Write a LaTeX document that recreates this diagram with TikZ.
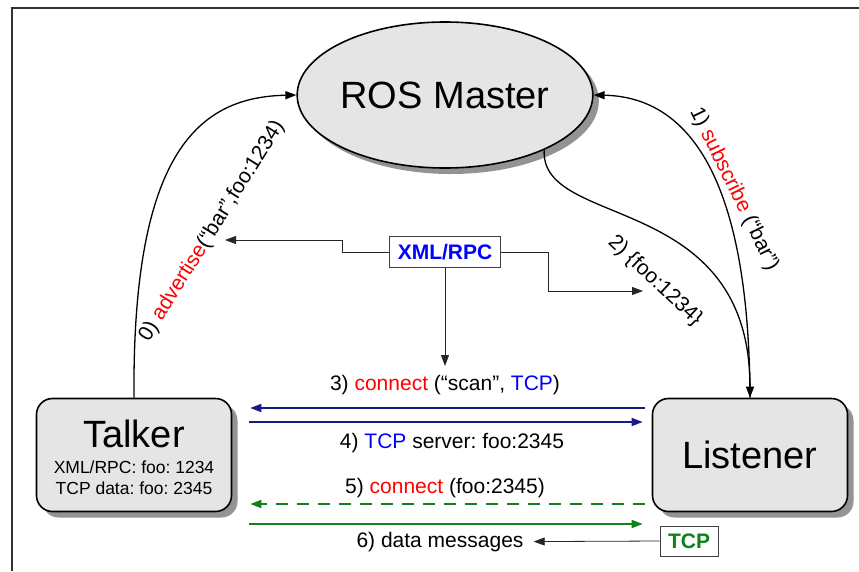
\documentclass[tikz,border=0pt]{standalone}
\usepackage{fontspec}
\setmainfont{Liberation Sans}
\usetikzlibrary{arrows.meta,shapes.geometric,shadows}
\frenchspacing

\definecolor{navyline}{RGB}{25,25,135}
\definecolor{tcpgreen}{RGB}{15,130,25}

\begin{document}
\begin{tikzpicture}[x=1pt,y=-1pt,
  nodeshadow/.style={drop shadow={shadow xshift=6pt,shadow yshift=-6pt,fill=gray!85,opacity=1}},
  rosbox/.style={draw=black,line width=1.6pt,fill=gray!20,rounded corners=16pt,
    minimum width=195pt,minimum height=113pt,nodeshadow},
  tagbox/.style={draw=black!75,line width=0.8pt,fill=white,inner sep=0pt,
    font=\fontsize{21}{21}\selectfont\bfseries},
  msg/.style={font=\fontsize{21}{25}\selectfont,inner sep=2pt},
  tip/.style={-{Triangle[length=11pt,width=8pt]}},
  curve/.style={tip,line width=1.3pt},
  wire/.style={tip,line width=0.8pt,black!85},
  bluearrow/.style={tip,line width=1.6pt,navyline},
  greenarrow/.style={tip,line width=1.6pt,tcpgreen}]
\useasboundingbox (0,0) rectangle (859,571);
\draw[line width=1.2pt,black!80] (12,571) -- (12,8) -- (859,8); % frame

% nodes
\node[ellipse,draw=black,line width=1.6pt,fill=gray!20,minimum width=278pt,
  minimum height=146pt,inner sep=0pt,nodeshadow,font=\fontsize{38}{38}\selectfont]
  (ros) at (445,95) {ROS Master};
\node[rosbox] (talker) at (134,455) {};
\node[anchor=base,font=\fontsize{38}{38}\selectfont] (talkername) at (134,447) {Talker};
\node[anchor=base,font=\fontsize{17.5}{17.5}\selectfont] (talkerxml) at (134,473) {XML/RPC: foo: 1234};
\node[anchor=base,font=\fontsize{17.5}{17.5}\selectfont] (talkertcp) at (134,494) {TCP data: foo: 2345};
\node[rosbox,font=\fontsize{38}{38}\selectfont] (listener) at (750,455) {Listener};
\node[tagbox,text=blue,minimum width=111pt,minimum height=31pt] (xml) at (445,252) {XML/RPC};
\node[tagbox,text=tcpgreen,minimum width=58pt,minimum height=30pt] (tcp) at (689,541) {TCP};

% labels
\node[msg,rotate=58] (adv) at (212,231) {0) \textcolor{red}{advertise}(“bar”,foo:1234)};
\node[msg,rotate=-64] (sub) at (734,189) {1) \textcolor{red}{subscribe} (“bar”)};
\node[msg,rotate=-43] (reply) at (655,281) {2) \{foo:1234\}};
\node[msg,anchor=base] (m3) at (445,390) {3) \textcolor{red}{connect} (“scan”, \textcolor{blue}{TCP})};
\node[msg,anchor=base] (m4) at (452,448) {4) \textcolor{blue}{TCP} server: foo:2345};
\node[msg,anchor=base] (m5) at (445,493) {5) \textcolor{red}{connect} (foo:2345)};
\node[msg,anchor=base] (m6) at (440,547) {6) data messages};

\coordinate (advtip) at (225,240);
\coordinate (replytip) at (643,291);
\coordinate (scantip) at (445,366);

% master calls
\draw[curve] (talker.north) .. controls (132,150) and (200,97) .. (ros.west);
\draw[curve] (listener.north) .. controls (749,180) and (690,97) .. (ros.east);
\draw[curve] (ros.-29) .. controls (540,230) and (750,190) .. (listener.north);

% xml/rpc wires
\draw[wire] (xml.west) -| (342,240) -- (advtip);
\draw[wire] (xml.east) -| (548,291) -- (replytip);
\draw[wire] (xml.south) -- (scantip);

% peer to peer
\draw[bluearrow] ([shift={(-7,-47)}]listener.west) -- ([shift={(18,-47)}]talker.east);
\draw[bluearrow] ([shift={(17,-33)}]talker.east) -- ([shift={(-9,-33)}]listener.west);
\draw[greenarrow,dashed,dash pattern=on 12pt off 9pt] ([shift={(-7,49)}]listener.west) -- ([shift={(18,49)}]talker.east);
\draw[greenarrow] ([shift={(17,69)}]talker.east) -- ([shift={(-9,69)}]listener.west);
\draw[wire] (tcp.west) -- ([xshift=8pt]m6.east);
\end{tikzpicture}
\end{document}
